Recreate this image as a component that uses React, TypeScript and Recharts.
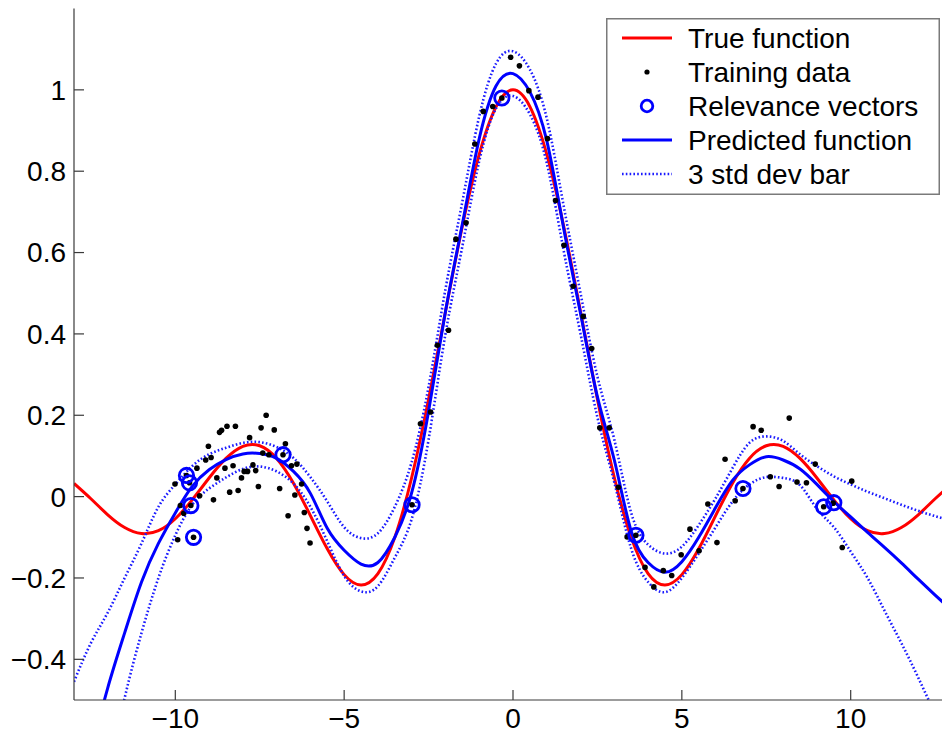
import React from 'react';
import { ComposedChart, Line, Scatter, XAxis, YAxis, Legend } from 'recharts';

// ---------- data ----------
const xGrid = [
  -13, -12.5, -12, -11.5, -11, -10.5, -10, -9.5, -9, -8.5, -8, -7.5, -7, -6.5, -6, -5.5, -5, -4.5, -4, -3.5, -3, -2.5,
  -2, -1.5, -1, -0.5, 0, 0.5, 1, 1.5, 2, 2.5, 3, 3.5, 4, 4.5, 5, 5.5, 6, 6.5, 7, 7.5, 8, 8.5, 9, 9.5, 10, 10.5, 11,
  11.5, 12, 12.5, 13,
];

const trueFunction = [
  0.0323, -0.0053, -0.0447, -0.0761, -0.0909, -0.0838, -0.0544, -0.0079, 0.0458, 0.0939, 0.1237, 0.1251, 0.0939,
  0.0331, -0.0466, -0.1283, -0.1918, -0.2172, -0.1892, -0.1002, 0.047, 0.2394, 0.4546, 0.665, 0.8415, 0.9589, 1,
  0.9589, 0.8415, 0.665, 0.4546, 0.2394, 0.047, -0.1002, -0.1892, -0.2172, -0.1918, -0.1283, -0.0466, 0.0331, 0.0939,
  0.1251, 0.1237, 0.0939, 0.0458, -0.0079, -0.0544, -0.0838, -0.0909, -0.0761, -0.0447, -0.0053, 0.0323,
];

const predicted = [
  -0.8, -0.63, -0.47, -0.335, -0.21, -0.115, -0.04, 0.025, 0.066, 0.091, 0.105, 0.106, 0.094, 0.062, 0.008, -0.078,
  -0.132, -0.166, -0.162, -0.1, 0.01, 0.21, 0.455, 0.67, 0.88, 1.01, 1.04, 0.995, 0.875, 0.66, 0.45, 0.245, 0.09,
  -0.085, -0.162, -0.186, -0.16, -0.1, -0.027, 0.04, 0.078, 0.098, 0.09, 0.068, 0.03, -0.012, -0.05, -0.088, -0.125,
  -0.163, -0.203, -0.242, -0.28,
];

const upperBar = [
  -0.455, -0.36, -0.285, -0.2, -0.115, -0.025, 0.03, 0.075, 0.104, 0.12, 0.132, 0.134, 0.122, 0.095, 0.048, -0.012,
  -0.075, -0.102, -0.09, -0.025, 0.085, 0.27, 0.51, 0.725, 0.935, 1.065, 1.095, 1.05, 0.93, 0.715, 0.5, 0.295, 0.14,
  -0.04, -0.118, -0.14, -0.123, -0.07, -0.004, 0.07, 0.132, 0.148, 0.137, 0.104, 0.075, 0.05, 0.03, 0.012, -0.004,
  -0.02, -0.035, -0.048, -0.06,
];

const lowerBar = [
  -1.2, -0.92, -0.69, -0.495, -0.335, -0.2, -0.095, -0.02, 0.02, 0.047, 0.068, 0.074, 0.062, 0.032, -0.025, -0.11,
  -0.195, -0.233, -0.22, -0.15, -0.055, 0.14, 0.4, 0.615, 0.825, 0.955, 0.985, 0.94, 0.82, 0.605, 0.4, 0.195, 0.035,
  -0.128, -0.21, -0.235, -0.2, -0.14, -0.075, -0.012, 0.03, 0.048, 0.046, 0.028, -0.03, -0.075, -0.135, -0.2, -0.28,
  -0.36, -0.445, -0.535, -0.625,
];

const trainX = [
  -10.01, -9.93, -9.85, -9.75, -9.67, -9.58, -9.54, -9.46, -9.36, -9.28, -9.1, -9.02, -8.94, -8.87, -8.77, -8.69, -8.63,
  -8.53, -8.47, -8.39, -8.29, -8.22, -8.14, -8.04, -7.96, -7.86, -7.8, -7.7, -7.62, -7.54, -7.46, -7.41, -7.31, -7.23,
  -7.07, -6.91, -6.81, -6.74, -6.66, -6.56, -6.46, -6.4, -6.26, -6.18, -6.1, -6.01, -2.99, -2.74, -2.44, -2.24, -1.91,
  -1.69, -1.39, -1.13, -0.88, -0.6, -0.33, -0.07, 0.19, 0.47, 0.74, 1.02, 1.26, 1.51, 1.78, 2.08, 2.33, 2.57, 2.85,
  3.12, 3.38, 3.64, 3.91, 4.17, 4.45, 4.7, 4.98, 5.24, 5.51, 5.77, 6.04, 6.28, 6.58, 6.81, 7.11, 7.35, 7.62, 7.88,
  8.18, 8.41, 8.69, 8.95, 9.2, 9.48, 9.75, 10.03,
];
const trainY = [
  0.031, -0.106, -0.022, -0.041, 0.052, 0.034, -0.022, -0.1, 0.07, 0.002, 0.09, 0.124, 0.096, -0.008, 0.046, 0.158,
  0.163, 0.07, 0.173, 0.011, 0.076, 0.173, 0.015, 0.046, 0.062, 0.062, 0.145, 0.078, 0.064, 0.025, 0.169, 0.107, 0.2,
  0.103, 0.164, 0.02, 0.103, 0.13, -0.047, 0.076, 0.004, 0.08, 0.031, -0.039, -0.078, -0.114, -0.02, 0.179, 0.208,
  0.372, 0.409, 0.633, 0.673, 0.867, 0.947, 0.959, 0.98, 1.08, 1.059, 0.998, 0.982, 0.88, 0.728, 0.618, 0.517, 0.443,
  0.364, 0.169, 0.169, 0.023, -0.099, -0.095, -0.174, -0.222, -0.182, -0.194, -0.143, -0.08, -0.133, -0.018, -0.113,
  0.092, -0.01, 0.02, 0.172, 0.163, 0.049, 0.025, 0.193, 0.036, 0.034, 0.08, -0.025, -0.016, -0.125, 0.038,
];

const rvX = [-9.67, -9.58, -9.54, -9.46, -6.81, -2.99, -0.33, 3.64, 6.81, 9.2, 9.5];
const rvY = [0.052, 0.034, -0.022, -0.1, 0.103, -0.02, 0.98, -0.095, 0.02, -0.025, -0.015];

const xTicks = [-10, -5, 0, 5, 10];
const yTicks = [-0.4, -0.2, 0, 0.2, 0.4, 0.6, 0.8, 1];
const legendLabels = ['True function', 'Training data', 'Relevance vectors', 'Predicted function', '3 std dev bar'];

// ---------- styling ----------
const FONT = '"Liberation Sans", Arial, Helvetica, sans-serif';
const RED = '#ff0000';
const BLUE = '#0000ff';
const DOT_BLUE = '#1a1aff';
const AXIS = '#3a3a3a';
const DOTTED = '1.6 2.2';

const fmt = (v: number) => (v < 0 ? '\u2212' + String(Math.abs(v)) : String(v));

const TrainDot = (props: any) => {
  const { cx, cy } = props;
  if (cx == null || cy == null) return <g />;
  return <circle cx={cx} cy={cy} r={2.8} fill="#000" />;
};

const RvCircle = (props: any) => {
  const { cx, cy } = props;
  if (cx == null || cy == null) return <g />;
  return <circle cx={cx} cy={cy} r={7.2} fill="none" stroke={BLUE} strokeWidth={2.8} />;
};

const renderLegend = () => {
  const rowY = legendLabels.map((_, i) => 20 + 34 * i);
  return (
    <svg width={334} height={177} style={{ display: 'block' }}>
      <rect x={0.75} y={0.75} width={332.5} height={175.5} fill="#fff" stroke="#7a7a7a" strokeWidth={1.5} />
      <line x1={16} x2={66} y1={rowY[0]} y2={rowY[0]} stroke={RED} strokeWidth={3} />
      <circle cx={41} cy={rowY[1]} r={2.6} fill="#000" />
      <circle cx={41} cy={rowY[2]} r={5.8} fill="none" stroke={BLUE} strokeWidth={2.8} />
      <line x1={16} x2={66} y1={rowY[3]} y2={rowY[3]} stroke={BLUE} strokeWidth={3} />
      <line x1={16} x2={66} y1={rowY[4]} y2={rowY[4]} stroke={DOT_BLUE} strokeWidth={2.6} strokeDasharray={DOTTED} />
      {legendLabels.map((label, i) => (
        <text key={label} x={82} y={rowY[i] + 10} fontFamily={FONT} fontSize={28} fill="#000">
          {label}
        </text>
      ))}
    </svg>
  );
};

export default function App() {
  const curveData = xGrid.map((x, i) => ({
    x,
    t: trueFunction[i],
    p: predicted[i],
    u: upperBar[i],
    l: lowerBar[i],
  }));
  const trainData = trainX.map((x, i) => ({ x, y: trainY[i] }));
  const rvData = rvX.map((x, i) => ({ x, y: rvY[i] }));
  const tickStyle = { fontSize: 28, fill: '#000', fontFamily: FONT };

  return (
    <div
      style={{
        position: 'absolute',
        left: 0,
        top: 0,
        width: 942,
        height: 738,
        overflow: 'hidden',
        background: '#fff',
      }}
    >
      <ComposedChart width={952} height={738} margin={{ top: 8.5, right: 0, bottom: 0, left: 0 }}>
        <XAxis
          xAxisId={0}
          dataKey="x"
          type="number"
          domain={[-13, 13]}
          ticks={xTicks}
          interval={0}
          allowDataOverflow
          orientation="bottom"
          height={38}
          tickSize={-10}
          tickMargin={18}
          tickFormatter={fmt}
          tick={tickStyle}
          axisLine={{ stroke: AXIS, strokeWidth: 1.2 }}
          tickLine={{ stroke: AXIS, strokeWidth: 1.2 }}
        />
        <XAxis
          xAxisId="top"
          dataKey="x"
          type="number"
          domain={[-13, 13]}
          ticks={xTicks}
          interval={0}
          allowDataOverflow
          orientation="top"
          height={0}
          tickSize={-10}
          tickFormatter={() => ''}
          axisLine={{ stroke: AXIS, strokeWidth: 1.2 }}
          tickLine={{ stroke: AXIS, strokeWidth: 1.2 }}
        />
        <YAxis
          yAxisId={0}
          type="number"
          domain={[-0.5, 1.2]}
          ticks={yTicks}
          interval={0}
          allowDataOverflow
          width={74}
          tickSize={-10}
          tickMargin={18}
          tickFormatter={fmt}
          tick={tickStyle}
          axisLine={{ stroke: AXIS, strokeWidth: 1.2 }}
          tickLine={{ stroke: AXIS, strokeWidth: 1.2 }}
        />
        <Legend
          layout="vertical"
          align="center"
          verticalAlign="middle"
          content={renderLegend}
          wrapperStyle={{ position: 'absolute', left: 606, top: 18, width: 334, height: 177 }}
        />
        <Line
          xAxisId="top"
          yAxisId={0}
          data={curveData}
          dataKey="t"
          stroke="none"
          dot={false}
          activeDot={false}
          legendType="none"
          isAnimationActive={false}
        />
        <Line
          xAxisId={0}
          yAxisId={0}
          data={curveData}
          dataKey="t"
          type="natural"
          stroke={RED}
          strokeWidth={3}
          dot={false}
          activeDot={false}
          isAnimationActive={false}
        />
        <Scatter xAxisId={0} yAxisId={0} data={trainData} dataKey="y" shape={TrainDot} isAnimationActive={false} />
        <Scatter xAxisId={0} yAxisId={0} data={rvData} dataKey="y" shape={RvCircle} isAnimationActive={false} />
        <Line
          xAxisId={0}
          yAxisId={0}
          data={curveData}
          dataKey="p"
          type="natural"
          stroke={BLUE}
          strokeWidth={3}
          dot={false}
          activeDot={false}
          isAnimationActive={false}
        />
        <Line
          xAxisId={0}
          yAxisId={0}
          data={curveData}
          dataKey="u"
          type="natural"
          stroke={DOT_BLUE}
          strokeWidth={2.6}
          strokeDasharray={DOTTED}
          dot={false}
          activeDot={false}
          isAnimationActive={false}
        />
        <Line
          xAxisId={0}
          yAxisId={0}
          data={curveData}
          dataKey="l"
          type="natural"
          stroke={DOT_BLUE}
          strokeWidth={2.6}
          strokeDasharray={DOTTED}
          dot={false}
          activeDot={false}
          isAnimationActive={false}
        />
      </ComposedChart>
    </div>
  );
}
